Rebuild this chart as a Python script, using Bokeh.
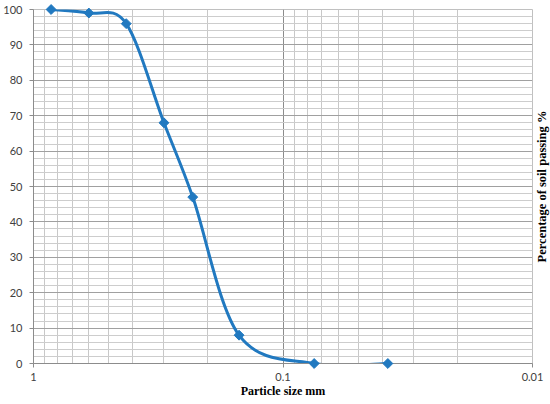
import numpy as np
from bokeh.plotting import figure
from bokeh.models import (Range1d, FixedTicker, SingleIntervalTicker, NumeralTickFormatter,
                          ColumnDataSource)
from bokeh.core.properties import value
from bokeh.embed import file_html
from bokeh.resources import INLINE

# ---- data ----
particle_size = [0.85, 0.6, 0.425, 0.3, 0.23, 0.15, 0.075, 0.038]
percent_passing = [100, 99, 96, 68, 47, 8, 0, 0]
x_major_ticks = [1, 0.1, 0.01]
x_minor_ticks = [0.9, 0.8, 0.7, 0.6, 0.5, 0.4, 0.3, 0.2,
                 0.09, 0.08, 0.07, 0.06, 0.05, 0.04, 0.03, 0.02]
x_title = "Particle size mm"
y_title = "Percentage of soil passing %"

LINE_COLOR = "#2179c0"
X_START, X_END = 1, 0.01
Y_START, Y_END = 0, 100

p = figure(width=550, height=404, x_axis_type="log",
           x_range=Range1d(X_START, X_END), y_range=Range1d(Y_START, Y_END),
           output_backend="svg", toolbar_location=None,
           min_border_left=33, min_border_right=18,
           min_border_top=9, min_border_bottom=41)
p.background_fill_color = "white"
p.border_fill_color = "white"
p.outline_line_color = "#c0c0c0"

# x axis / grid
xt = FixedTicker(ticks=x_major_ticks, minor_ticks=x_minor_ticks)
p.xaxis.ticker = xt
p.xgrid.ticker = xt
p.xaxis.formatter = NumeralTickFormatter(format="0.[00]")
p.xgrid.grid_line_color = "#8c8c8c"
p.xgrid.minor_grid_line_color = "#c8c8c8"

# y axis / grid
yt = SingleIntervalTicker(interval=10, num_minor_ticks=5)
p.yaxis.ticker = yt
p.ygrid.ticker = yt
p.ygrid.grid_line_color = "#a0a0a0"
p.ygrid.minor_grid_line_color = "#cdcdcd"

for ax in (p.xaxis[0], p.yaxis[0]):
    ax.axis_line_color = "#8c8c8c"
    ax.major_tick_line_color = "#8c8c8c"
    ax.major_tick_out = 4
    ax.major_tick_in = 0
    ax.minor_tick_line_color = None
    ax.major_label_text_font = "Lato"
    ax.major_label_text_font_size = "11px"
    ax.major_label_text_color = "#404040"

p.yaxis.major_label_standoff = 7
p.xaxis.major_label_standoff = 5
p.xaxis.axis_label = x_title
p.xaxis.axis_label_text_font = "Liberation Serif"
p.xaxis.axis_label_text_font_style = "bold"
p.xaxis.axis_label_text_font_size = "12px"
p.xaxis.axis_label_text_color = "black"
p.xaxis.axis_label_standoff = 0

# smooth curve (Catmull-Rom style bezier in screen-proportional log space)
lx = np.log10(np.array(particle_size, dtype=float))
ly = np.array(percent_passing, dtype=float)
n = len(lx)
segs = dict(x0=[], y0=[], x1=[], y1=[], cx0=[], cy0=[], cx1=[], cy1=[])
for i in range(n - 1):
    ip = max(i - 1, 0)
    inx = min(i + 2, n - 1)
    c0x = lx[i] + (lx[i + 1] - lx[ip]) / 6
    c0y = ly[i] + (ly[i + 1] - ly[ip]) / 6
    c1x = lx[i + 1] - (lx[inx] - lx[i]) / 6
    c1y = ly[i + 1] - (ly[inx] - ly[i]) / 6
    segs["x0"].append(10 ** lx[i]); segs["y0"].append(ly[i])
    segs["x1"].append(10 ** lx[i + 1]); segs["y1"].append(ly[i + 1])
    segs["cx0"].append(10 ** c0x); segs["cy0"].append(c0y)
    segs["cx1"].append(10 ** c1x); segs["cy1"].append(c1y)

p.bezier(x0="x0", y0="y0", x1="x1", y1="y1", cx0="cx0", cy0="cy0",
         cx1="cx1", cy1="cy1", source=ColumnDataSource(segs),
         line_color=LINE_COLOR, line_width=3)

p.scatter(particle_size, percent_passing, marker="square", angle=np.pi / 4, size=7,
          fill_color=LINE_COLOR, line_color=LINE_COLOR, level="overlay")

# right-hand title (reads bottom to top), placed just outside the plot frame
frame_px_per_decade = 499 / 2.0
title_gap_px = 9.7
title_x = X_END / 10 ** (title_gap_px / frame_px_per_decade)
title_y = (Y_START + Y_END) / 2
p.text(x=[title_x], y=[title_y], text=[y_title], angle=np.pi / 2,
       text_align="center", text_baseline="middle",
       text_font=value("Liberation Serif"), text_font_style="bold",
       text_font_size="12.5px", text_color="black", level="overlay")

open("out.html", "w").write(file_html(p, INLINE))
